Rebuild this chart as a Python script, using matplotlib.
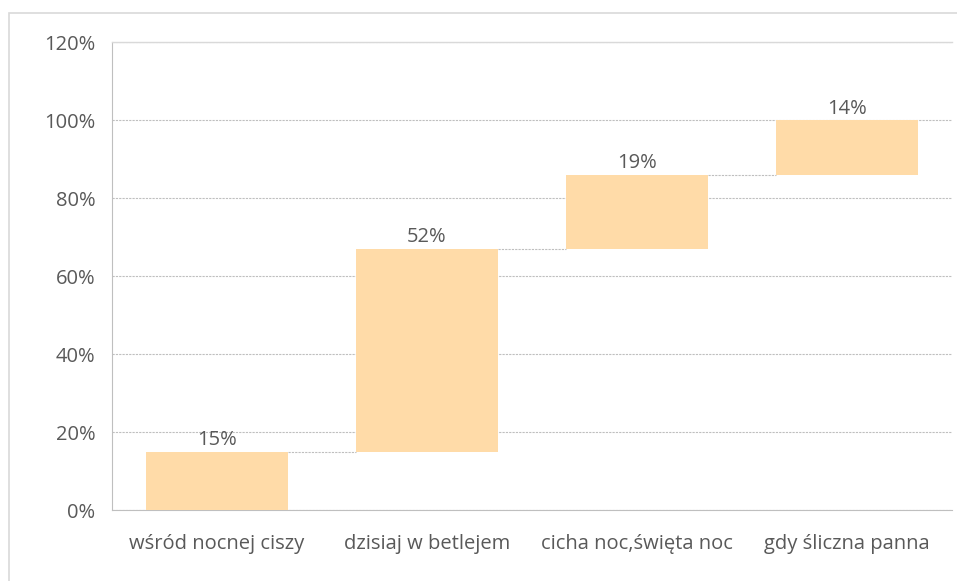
import matplotlib.pyplot as plt
import matplotlib.patches as mpatches
import numpy as np

categories = ["wśród nocnej ciszy", "dzisiaj w betlejem", "cicha noc,święta noc", "gdy śliczna panna"]
values = [15, 52, 19, 14]
y_ticks = [0, 20, 40, 60, 80, 100, 120]

text_color = "#595959"
bar_color = "#FFDBA8"
grid_color = "#BFBFBF"

plt.rcParams["font.family"] = ["Open Sans", "DejaVu Sans"]

fig = plt.figure(figsize=(9.57, 5.81), dpi=100)
ax = fig.add_axes([112 / 957, 1 - 510 / 581, (952 - 112) / 957, (510 - 42) / 581])

# outer chart border (bottom edge is cut off)
fig.patches.append(mpatches.Rectangle((9 / 957, -0.05), 1, 1.05 - 13 / 581, transform=fig.transFigure,
                                      fill=False, edgecolor="#D9D9D9", linewidth=1.2))

x = np.arange(len(categories))
vals = np.array(values)
bottoms = np.concatenate([[0], np.cumsum(vals)[:-1]])
tops = bottoms + vals
width = 0.676

ax.bar(x, vals, bottom=bottoms, width=width, color=bar_color, zorder=3)

# connectors between bars
for i in range(len(x) - 1):
    ax.plot([x[i] + width / 2, x[i + 1] - width / 2], [tops[i], tops[i]],
            color=grid_color, linestyle=(0, (2, 1)), linewidth=0.8, zorder=2)

for xi, t, v in zip(x, tops, vals):
    ax.annotate(f"{v}%", (xi, t), xytext=(0, 1), textcoords="offset points",
                ha="center", va="bottom", fontsize=14.5, color=text_color)

ax.set_xlim(-0.5, len(x) - 0.5)
ax.set_ylim(0, 120)
ax.set_yticks(y_ticks)
ax.set_yticklabels([f"{t}%" for t in y_ticks])
ax.set_xticks(x)
ax.set_xticklabels(categories)
ax.tick_params(axis="both", length=0, labelsize=14.5, labelcolor=text_color)
ax.tick_params(axis="y", pad=12)
ax.tick_params(axis="x", pad=17)

ax.yaxis.grid(True, color=grid_color, linestyle=(0, (2, 1)), linewidth=0.8, zorder=0)
ax.set_axisbelow(True)
ax.spines["right"].set_visible(False)
ax.spines["top"].set_color("#D9D9D9")
ax.spines["top"].set_linewidth(1.0)
for s in ["left", "bottom"]:
    ax.spines[s].set_color(grid_color)
    ax.spines[s].set_linestyle((0, (2, 1)))
    ax.spines[s].set_linewidth(0.8)

fig.savefig("out.png", dpi=100)
